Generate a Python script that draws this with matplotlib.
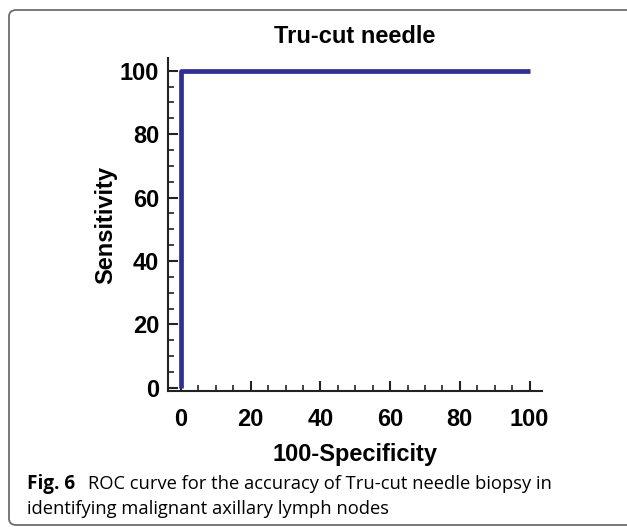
import matplotlib.pyplot as plt
from matplotlib.patches import FancyBboxPatch
from matplotlib.ticker import MultipleLocator

# ROC points (100-specificity, sensitivity)
fpr = [0, 0, 100]
sens = [0, 100, 100]

title = 'Tru-cut needle'
xlabel = '100-Specificity'
ylabel = 'Sensitivity'
caption_bold = 'Fig. 6'
caption_1 = 'ROC curve for the accuracy of Tru-cut needle biopsy in'
caption_2 = 'identifying malignant axillary lymph nodes'

fig = plt.figure(figsize=(6.27, 5.27), dpi=100)
ax = fig.add_axes([0.268, 0.258, 0.596, 0.632])

ax.plot(fpr, sens, color='#2e3192', lw=3.4, solid_capstyle='butt', clip_on=False, zorder=5)

ax.xaxis.set_major_locator(MultipleLocator(20))
ax.xaxis.set_minor_locator(MultipleLocator(5))
ax.yaxis.set_major_locator(MultipleLocator(20))
ax.yaxis.set_minor_locator(MultipleLocator(5))
ax.set_xlim(-3.7, 103.5)
ax.set_ylim(-1, 104)

for s in ['top', 'right']:
    ax.spines[s].set_visible(False)
for s in ['left', 'bottom']:
    ax.spines[s].set_linewidth(1.5)
    ax.spines[s].set_color('#222222')

fs = 17
lab_font = dict(family='Liberation Sans', weight='bold', size=fs)
ax.tick_params(which='major', direction='in', length=7, width=1.5, color='#222222')
ax.tick_params(which='minor', direction='in', length=4.5, width=1.2, color='#222222')
ax.tick_params(axis='x', which='major', pad=12)
ax.tick_params(axis='y', which='major', pad=6.5)
for t in ax.get_xticklabels() + ax.get_yticklabels():
    t.set_fontproperties('Liberation Sans')
    t.set_fontweight('bold')
    t.set_fontsize(fs)

ax.set_xlabel(xlabel, labelpad=9, **lab_font)
ax.set_ylabel(ylabel, labelpad=2, **lab_font)
ax.set_title(title, pad=11, **lab_font)

# caption under the chart
fig.text(27 / 627, 1 - 489 / 527, caption_bold, family='Open Sans', weight='bold',
         size=13.6, va='baseline')
fig.text(88 / 627, 1 - 489 / 527, caption_1, family='Open Sans', size=13.2, va='baseline')
fig.text(27 / 627, 1 - 514 / 527, caption_2, family='Open Sans', size=13.2, va='baseline')

# rounded frame around the figure
frame = FancyBboxPatch((9 / 627, 2 / 527), 640 / 627, 515 / 527,
                       boxstyle='round,pad=0,rounding_size=0.012',
                       transform=fig.transFigure, fill=False,
                       edgecolor='#6d6d6d', lw=1.3)
fig.patches.append(frame)

fig.savefig('out.png', dpi=100)
